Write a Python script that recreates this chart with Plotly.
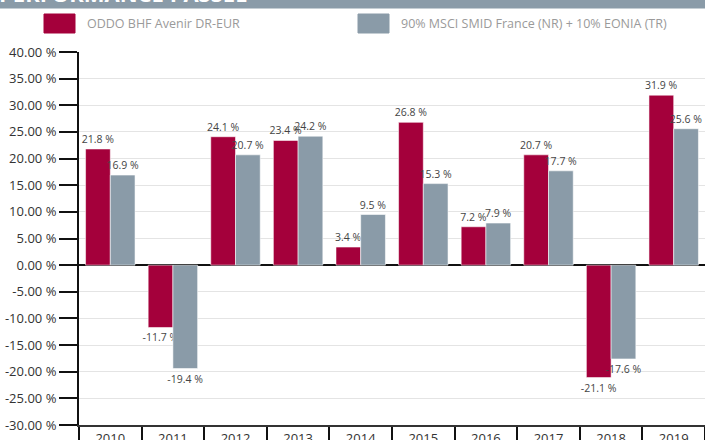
import plotly.graph_objects as go

years = ["2010", "2011", "2012", "2013", "2014", "2015", "2016", "2017", "2018", "2019"]
fund = [21.8, -11.7, 24.1, 23.4, 3.4, 26.8, 7.2, 20.7, -21.1, 31.9]
bench = [16.9, -19.4, 20.7, 24.2, 9.5, 15.3, 7.9, 17.7, -17.6, 25.6]
fund_name = "ODDO BHF Avenir DR-EUR"
bench_name = "90% MSCI SMID France (NR) + 10% EONIA (TR)"
y_ticks = [-30, -25, -20, -15, -10, -5, 0, 5, 10, 15, 20, 25, 30, 35, 40]

RED = "#A4003B"
GREY = "#8A9BA8"
W, H = 705, 440
L, R, T, B = 79, 0, 52, 15
FONT = "Open Sans"

def fmt(v):
    return f"{v:.1f} %"

fig = go.Figure()
for name, vals, col in [(fund_name, fund, RED), (bench_name, bench, GREY)]:
    fig.add_trace(go.Bar(
        x=years, y=vals, name=name,
        marker=dict(color=col, line=dict(color="rgba(255,255,255,0.55)", width=1)),
        text=[fmt(v) for v in vals], textposition="outside",
        textfont=dict(family=FONT, size=10.5, color="#444"),
        constraintext="none", cliponaxis=False, showlegend=False,
    ))

pw = W - L - R
ph = H - T - B

def px_x(p):
    return (p - L) / pw

def px_y(p):
    return 1 - (p - T) / ph

shapes = [
    # title bar
    dict(type="rect", xref="paper", yref="paper", x0=px_x(0), x1=px_x(W), y0=px_y(-5), y1=px_y(8.5),
         fillcolor=GREY, line_width=0, layer="below"),
    # legend swatches
    dict(type="rect", xref="paper", yref="paper", x0=px_x(44), x1=px_x(75), y0=px_y(33), y1=px_y(14),
         fillcolor=RED, line=dict(color=RED, width=1)),
    dict(type="rect", xref="paper", yref="paper", x0=px_x(358), x1=px_x(389), y0=px_y(33), y1=px_y(14),
         fillcolor=GREY, line=dict(color=GREY, width=1)),
]
annotations = [
    dict(text="<b>PERFORMANCE PASSÉE</b>", xref="paper", yref="paper", x=px_x(-3), y=px_y(10),
         xanchor="left", yanchor="bottom", showarrow=False,
         font=dict(family=FONT, size=22, color="white")),
    dict(text=fund_name, xref="paper", yref="paper", x=px_x(85), y=px_y(23.5),
         xanchor="left", yanchor="middle", showarrow=False,
         font=dict(family=FONT, size=12.5, color="#9a9a9a")),
    dict(text=bench_name, xref="paper", yref="paper", x=px_x(399), y=px_y(23.5),
         xanchor="left", yanchor="middle", showarrow=False,
         font=dict(family=FONT, size=12.5, color="#9a9a9a")),
]

fig.update_layout(
    width=W, height=H,
    margin=dict(l=L, r=R, t=T, b=B, pad=0, autoexpand=False),
    barmode="group", bargap=0.21, bargroupgap=0,
    plot_bgcolor="white", paper_bgcolor="white",
    shapes=shapes, annotations=annotations,
    font=dict(family=FONT, size=13, color="#333"),
)
fig.update_xaxes(
    type="category", tickson="boundaries", ticks="outside", ticklen=16, tickwidth=1.5,
    tickcolor="#111", showline=True, linecolor="#333", linewidth=2, automargin=False,
    tickfont=dict(family=FONT, size=13, color="#333"), showgrid=False,
)
fig.update_yaxes(
    range=[-30, 40], tickvals=y_ticks, ticktext=[f"{v:.2f} %" for v in y_ticks],
    ticks="outside", ticklen=18, tickwidth=2, tickcolor="#111", automargin=False,
    showline=True, linecolor="#111", linewidth=2,
    showgrid=True, gridcolor="#e4e4e4", gridwidth=1,
    zeroline=True, zerolinecolor="#111", zerolinewidth=2,
    tickfont=dict(family=FONT, size=13, color="#333"),
)

fig.write_html("out.html")
